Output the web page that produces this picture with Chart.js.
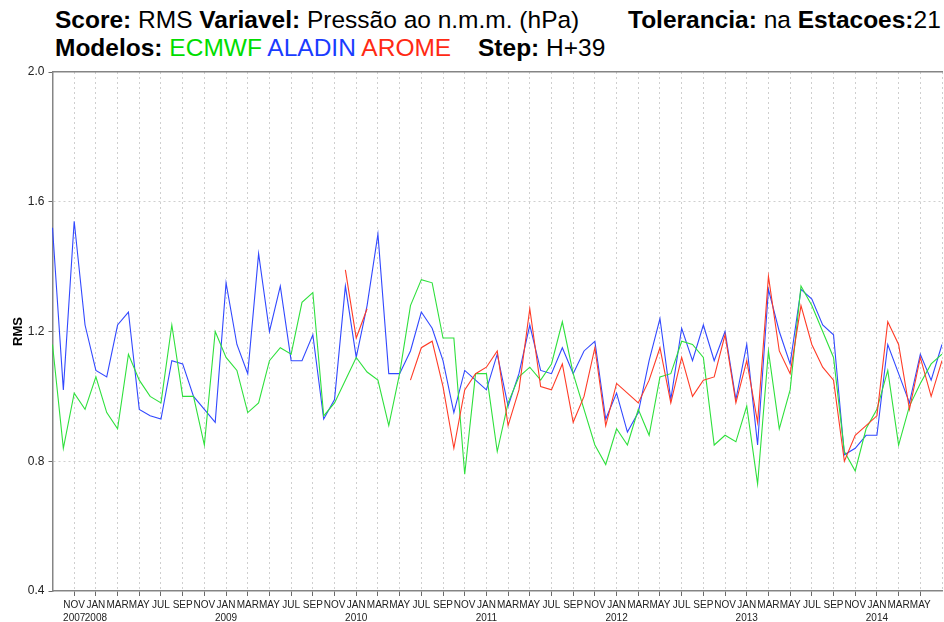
<!DOCTYPE html>
<html>
<head>
<meta charset="utf-8">
<title>RMS Pressão ao n.m.m.</title>
<script src="https://cdn.jsdelivr.net/npm/chart.js@4.4.1/dist/chart.umd.min.js"></script>
<style>
  html, body { margin: 0; padding: 0; background: #fff; }
  #wrap { position: relative; width: 944px; height: 622px; overflow: hidden; font-family: "Liberation Sans", Arial, sans-serif; }
  #wrap canvas { position: absolute; left: 0; top: 0; }
  .t { position: absolute; font-size: 24.5px; line-height: 1; color: #000; white-space: pre; }
  .t b { font-weight: bold; }
</style>
</head>
<body>
<div id="wrap">
  <div class="t" style="left:55px; top:8px;"><b>Score:</b> RMS <b>Variavel:</b> Pressão ao n.m.m. (hPa)</div>
  <div class="t" style="left:628px; top:8px;"><b>Tolerancia:</b> na <b>Estacoes:</b>21</div>
  <div class="t" style="left:55px; top:36px;"><b>Modelos:</b> <span style="color:#00dd00">ECMWF</span> <span style="color:#1a3cff">ALADIN</span> <span style="color:#ff2a14">AROME</span></div>
  <div class="t" style="left:478px; top:36px;"><b>Step:</b> H+39</div>
  <canvas id="rmsChart" width="944" height="622"></canvas>
</div>
<script>
// monthly series, first month = SEP 2007
var startYear = 2007;
var startMonth = 8; // 0 = JAN
var monthNames = ['JAN', 'FEB', 'MAR', 'APR', 'MAY', 'JUN', 'JUL', 'AUG', 'SEP', 'OCT', 'NOV', 'DEC'];
var lastLabelIndex = 80; // MAY 2014, the last month with a label

var ecmwf = [
  1.16, 0.84, 1.01, 0.96, 1.06, 0.95, 0.90, 1.13, 1.05, 1.00, 0.98, 1.22,
  1.00, 1.00, 0.85, 1.20, 1.12, 1.08, 0.95, 0.98, 1.11, 1.15, 1.13, 1.29,
  1.32, 0.94, 0.98, 1.05, 1.12, 1.075, 1.05, 0.91, 1.07, 1.28, 1.36, 1.35,
  1.18, 1.18, 0.76, 1.07, 1.07, 0.83, 0.98, 1.06, 1.09, 1.05, 1.10, 1.23,
  1.07, 0.96, 0.85, 0.79, 0.90, 0.85, 0.96, 0.88, 1.06, 1.07, 1.17, 1.16,
  1.12, 0.85, 0.88, 0.86, 0.97, 0.73, 1.14, 0.90, 1.02, 1.34, 1.28, 1.20,
  1.12, 0.83, 0.77, 0.90, 0.96, 1.08, 0.85, 0.97, 1.04, 1.10, 1.13
];

var aladin = [
  1.52, 1.02, 1.54, 1.22, 1.08, 1.06, 1.22, 1.26, 0.96, 0.94, 0.93, 1.11,
  1.10, 1.00, 0.96, 0.92, 1.35, 1.16, 1.07, 1.44, 1.20, 1.34, 1.11, 1.11,
  1.19, 0.93, 0.99, 1.34, 1.12, 1.28, 1.50, 1.07, 1.07, 1.14, 1.26, 1.21,
  1.11, 0.95, 1.08, 1.05, 1.02, 1.13, 0.97, 1.07, 1.22, 1.08, 1.07, 1.15,
  1.07, 1.14, 1.17, 0.93, 1.01, 0.89, 0.95, 1.11, 1.24, 0.99, 1.21, 1.11,
  1.22, 1.11, 1.20, 0.99, 1.16, 0.85, 1.33, 1.20, 1.10, 1.33, 1.30, 1.22,
  1.19, 0.82, 0.84, 0.88, 0.88, 1.16, 1.07, 0.98, 1.13, 1.05, 1.16
];

var arome = [
  null, null, null, null, null, null, null, null, null, null, null, null,
  null, null, null, null, null, null, null, null, null, null, null, null,
  null, null, null, 1.39, 1.18, 1.27, null, null, null, 1.05, 1.15, 1.17,
  1.03, 0.84, 1.02, 1.07, 1.09, 1.14, 0.91, 1.02, 1.27, 1.03, 1.02, 1.10,
  0.92, 1.00, 1.15, 0.91, 1.04, 1.01, 0.98, 1.05, 1.15, 0.98, 1.12, 1.00,
  1.05, 1.06, 1.19, 0.98, 1.11, 0.92, 1.37, 1.14, 1.07, 1.28, 1.16, 1.09,
  1.05, 0.80, 0.88, 0.91, 0.94, 1.23, 1.16, 0.96, 1.12, 1.00, 1.11
];

var yTicks = [0.4, 0.8, 1.2, 1.6, 2.0];

// categories: one per month
var categories = [];
for (var i = 0; i < aladin.length; i++) {
  var m = (startMonth + i) % 12;
  var y = startYear + Math.floor((startMonth + i) / 12);
  categories.push({ month: monthNames[m], year: y });
}

function isLabelled(i) {
  return i >= 2 && i <= lastLabelIndex && i % 2 === 0;
}

var gridGray = '#cfcfcf';
var axisGray = '#858585';

var ctx = document.getElementById('rmsChart').getContext('2d');
var chart = new Chart(ctx, {
  type: 'line',
  data: {
    labels: categories.map(function (c) { return c.month + ' ' + c.year; }),
    datasets: [{
      label: 'ECMWF',
      data: ecmwf,
      borderColor: '#2ee03c',
      borderWidth: 1.1,
      order: 2
    }, {
      label: 'ALADIN',
      data: aladin,
      borderColor: '#3148ff',
      borderWidth: 1.1,
      order: 3
    }, {
      label: 'AROME',
      data: arome,
      borderColor: '#ff3b26',
      borderWidth: 1.1,
      order: 1
    }]
  },
  options: {
    responsive: false,
    animation: false,
    spanGaps: false,
    elements: {
      point: { radius: 0, hoverRadius: 0 },
      line: { tension: 0 }
    },
    layout: { padding: { top: 72, right: 0, left: 0, bottom: 0 } },
    plugins: {
      legend: { display: false },
      title: { display: false },
      tooltip: { enabled: false }
    },
    scales: {
      x: {
        type: 'category',
        offset: false,
        border: { color: axisGray, width: 1.5, dash: [2, 3] },
        grid: {
          color: function (c) { return isLabelled(c.index) || c.index === 82 ? gridGray : 'rgba(0,0,0,0)'; },
          tickColor: function (c) { return isLabelled(c.index) ? '#6a6a6a' : 'rgba(0,0,0,0)'; },
          tickLength: 5,
          lineWidth: 1
        },
        ticks: {
          autoSkip: false,
          maxRotation: 0,
          minRotation: 0,
          padding: 2,
          color: '#222',
          font: { family: '"Liberation Sans", Arial, sans-serif', size: 10, lineHeight: 1.35 },
          callback: function (value, index) {
            if (!isLabelled(index)) return '';
            var c = categories[index];
            if (c.month === 'JAN' || index === 2) return [c.month, String(c.year)];
            return c.month;
          }
        },
        afterFit: function (scale) { scale.height = 31; }
      },
      xTop: {
        type: 'linear',
        axis: 'x',
        position: 'top',
        display: true,
        ticks: { display: false },
        grid: { display: false, drawTicks: false },
        border: { color: axisGray, width: 1.5 },
        afterFit: function (scale) { scale.height = 0; }
      },
      y: {
        min: yTicks[0],
        max: yTicks[yTicks.length - 1],
        border: { color: axisGray, width: 1.5, dash: [2, 3] },
        grid: {
          color: function (c) {
            var v = c.tick ? c.tick.value : null;
            return (v === yTicks[0] || v === yTicks[yTicks.length - 1]) ? 'rgba(0,0,0,0)' : gridGray;
          },
          tickColor: '#6a6a6a',
          tickLength: 4
        },
        afterBuildTicks: function (scale) {
          scale.ticks = yTicks.map(function (v) { return { value: v }; });
        },
        ticks: {
          padding: 4,
          color: '#222',
          font: { family: '"Liberation Sans", Arial, sans-serif', size: 12 },
          callback: function (value) { return Number(value).toFixed(1); }
        },
        title: {
          display: true,
          text: 'RMS',
          color: '#000',
          padding: { top: 11, bottom: 0 },
          font: { family: '"Liberation Sans", Arial, sans-serif', size: 13, weight: 'bold' }
        },
        afterFit: function (scale) { scale.width = 52.5; }
      }
    }
  }
});
</script>
</body>
</html>
